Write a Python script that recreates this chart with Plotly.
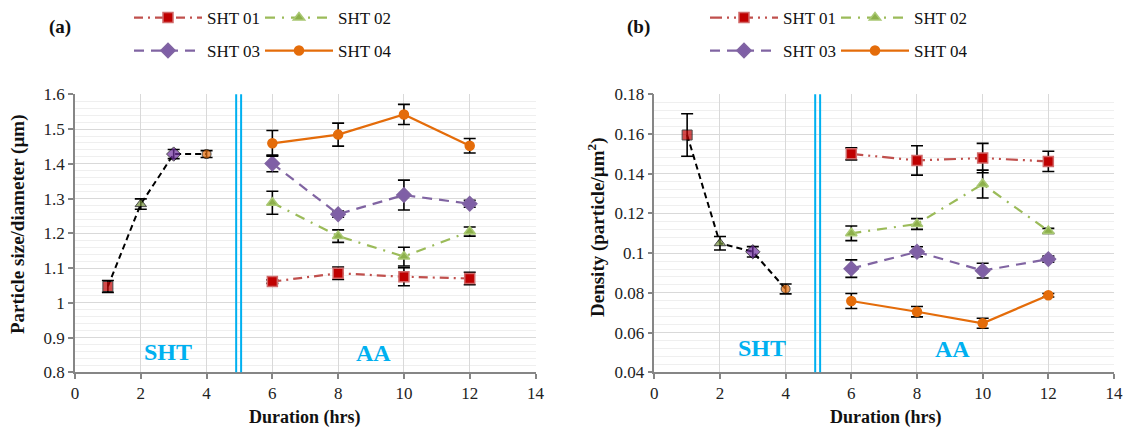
import plotly.graph_objects as go

# ---------------- data ----------------
sht_x = [1, 2, 3, 4]
aa_x = [6, 8, 10, 12]

# panel (a): particle size
a_sht_y = [1.047, 1.284, 1.428, 1.428]
a_sht_err = [0.017, 0.015, 0.013, 0.010]
a_s01 = [1.061, 1.085, 1.075, 1.070]
a_s01_err = [0.005, 0.018, 0.026, 0.018]
a_s02 = [1.288, 1.192, 1.133, 1.205]
a_s02_err = [0.033, 0.018, 0.027, 0.013]
a_s03 = [1.401, 1.255, 1.310, 1.285]
a_s03_err = [0.024, 0.009, 0.043, 0.010]
a_s04 = [1.459, 1.484, 1.542, 1.452]
a_s04_err = [0.037, 0.033, 0.029, 0.021]

# panel (b): density
b_sht_y = [0.1595, 0.1050, 0.1007, 0.0820]
b_sht_err = [0.0107, 0.0034, 0.0026, 0.0025]
b_s01 = [0.1500, 0.1467, 0.1479, 0.1462]
b_s01_err = [0.0030, 0.0074, 0.0074, 0.0051]
b_s02 = [0.1100, 0.1147, 0.1348, 0.1112]
b_s02_err = [0.0037, 0.0027, 0.0070, 0.0013]
b_s03 = [0.0922, 0.1007, 0.0912, 0.0970]
b_s03_err = [0.0044, 0.0025, 0.0037, 0.0015]
b_s04 = [0.0759, 0.0705, 0.0647, 0.0788]
b_s04_err = [0.0038, 0.0026, 0.0025, 0.0009]

names = ["SHT 01", "SHT 02", "SHT 03", "SHT 04"]

# ---------------- styles ----------------
FONT = "Liberation Serif, Times New Roman, serif"
OFF = 8  # page body margin
W, H = 1131 - 2 * OFF, 437 - 2 * OFF
line_cols = ["#C0504D", "#9BBB59", "#8064A2", "#E46C0A"]
mk_cols = ["#C00000", "#8DB04B", "#7F5FA6", "#E46C0A"]
mk_line = ["#D06A6A", "#A9C873", "#8064A2", "#E46C0A"]
symbols = ["square", "triangle-up", "diamond", "circle"]
mk_sizes = [10, 10, 11, 9]
dash_a = ["9px,5px,2px,5px", "10px,7px,2px,7px", "10px,7px", "solid"]
dash_b = ["12px,5px,2px,5px,2px,5px", "10px,7px,2px,7px", "10px,7px", "solid"]
sht_mk_cols = ["#C00000", "#76923C", "#7030A0", "#E46C0A"]
BLUE = "#00B0F0"

def px_x(p):
    return (p - OFF) / W

def px_y(p):
    return 1 - (p - OFF) / H

fig = go.Figure()

panels = [
    dict(xa="x", ya="y", sht=(a_sht_y, a_sht_err),
         series=[(a_s01, a_s01_err), (a_s02, a_s02_err), (a_s03, a_s03_err), (a_s04, a_s04_err)],
         dashes=dash_a, legends=["legend", "legend", "legend2", "legend2"]),
    dict(xa="x2", ya="y2", sht=(b_sht_y, b_sht_err),
         series=[(b_s01, b_s01_err), (b_s02, b_s02_err), (b_s03, b_s03_err), (b_s04, b_s04_err)],
         dashes=dash_b, legends=["legend3", "legend3", "legend4", "legend4"]),
]

for p in panels:
    yv, ye = p["sht"]
    fig.add_trace(go.Scatter(
        x=sht_x, y=yv, xaxis=p["xa"], yaxis=p["ya"], mode="lines+markers",
        line=dict(color="black", width=2, dash="6px,4px"),
        marker=dict(symbol=symbols, color=sht_mk_cols, size=mk_sizes),
        error_y=dict(type="data", array=ye, color="black", thickness=1.6, width=6),
        showlegend=False, hoverinfo="x+y"))
    for i, (vals, errs) in enumerate(p["series"]):
        fig.add_trace(go.Scatter(
            x=aa_x, y=vals, xaxis=p["xa"], yaxis=p["ya"], mode="lines+markers",
            name=names[i], legend=p["legends"][i],
            line=dict(color=line_cols[i], width=2.2, dash=p["dashes"][i]),
            marker=dict(symbol=symbols[i], color=mk_cols[i], size=mk_sizes[i],
                        line=dict(color=mk_line[i], width=1.5)),
            error_y=dict(type="data", array=errs, color="black", thickness=1.6, width=6)))

axis_common = dict(showline=True, linecolor="#868686", linewidth=1.5, ticks="outside",
                   ticklen=5, tickcolor="#868686", tickwidth=1.5, automargin=False,
                   showgrid=True, gridcolor="#D9D9D9", gridwidth=1.3, zeroline=False,
                   tickfont=dict(family=FONT, size=17, color="#222"))

ya_dom = [px_y(372.3), px_y(94.3)]
fig.update_layout(
    width=W, height=H,
    margin=dict(l=0, r=0, t=0, b=0, autoexpand=False),
    plot_bgcolor="white", paper_bgcolor="white",
    font=dict(family=FONT, size=17, color="#111"),
    xaxis=dict(domain=[px_x(75), px_x(535.5)], range=[0, 14], dtick=2, anchor="y", **axis_common),
    yaxis=dict(domain=ya_dom, range=[0.8, 1.6], dtick=0.1, anchor="x",
               minor=dict(dtick=0.02, showgrid=True, gridcolor="#EFEFEF", gridwidth=1), **axis_common),
    xaxis2=dict(domain=[px_x(654.3), px_x(1114)], range=[0, 14], dtick=2, anchor="y2", **axis_common),
    yaxis2=dict(domain=ya_dom, range=[0.04, 0.18], dtick=0.02, anchor="x2",
                minor=dict(dtick=0.004, showgrid=True, gridcolor="#EFEFEF", gridwidth=1), **axis_common),
)

leg_common = dict(orientation="h", xanchor="left", yanchor="middle", itemwidth=68,
                  font=dict(family=FONT, size=17, color="#111"), bgcolor="rgba(0,0,0,0)",
                  entrywidth=48, tracegroupgap=0)
fig.update_layout(
    legend=dict(x=px_x(129), y=px_y(18), **leg_common),
    legend2=dict(x=px_x(129), y=px_y(51), **leg_common),
    legend3=dict(x=px_x(705), y=px_y(18), **leg_common),
    legend4=dict(x=px_x(705), y=px_y(51), **leg_common),
)

# double blue separators
for xa, ya in [("x", "y"), ("x2", "y2")]:
    for xv in [4.9, 5.05]:
        fig.add_shape(type="line", xref=xa, yref=ya + " domain", x0=xv, x1=xv, y0=0, y1=1,
                      line=dict(color=BLUE, width=2))

anns = [
    dict(text="<b>SHT</b>", xref="x", yref="y", x=2.83, y=0.858, font=dict(color=BLUE, size=24)),
    dict(text="<b>AA</b>", xref="x", yref="y", x=9.07, y=0.855, font=dict(color=BLUE, size=24)),
    dict(text="<b>SHT</b>", xref="x2", yref="y2", x=3.27, y=0.0521, font=dict(color=BLUE, size=24)),
    dict(text="<b>AA</b>", xref="x2", yref="y2", x=9.08, y=0.0515, font=dict(color=BLUE, size=24)),
    dict(text="<b>(a)</b>", xref="paper", yref="paper", x=px_x(60), y=px_y(27), font=dict(size=19)),
    dict(text="<b>(b)</b>", xref="paper", yref="paper", x=px_x(638), y=px_y(27), font=dict(size=19)),
    dict(text="<b>Duration (hrs)</b>", xref="paper", yref="paper", x=px_x(305), y=px_y(417), font=dict(size=18)),
    dict(text="<b>Duration (hrs)</b>", xref="paper", yref="paper", x=px_x(886), y=px_y(417), font=dict(size=18)),
    dict(text="<b>Particle size/diameter (µm)</b>", xref="paper", yref="paper", x=px_x(18), y=px_y(224),
         textangle=-90, font=dict(size=19)),
    dict(text="<b>Density (particle/µm<sup>2</sup>)</b>", xref="paper", yref="paper", x=px_x(597), y=px_y(227),
         textangle=-90, font=dict(size=19)),
]
for a in anns:
    a.setdefault("showarrow", False)
    a.setdefault("xanchor", "center")
    a.setdefault("yanchor", "middle")
    a["font"].setdefault("family", FONT)
    a["font"].setdefault("color", "#111")
    fig.add_annotation(**a)

fig.write_html("out.html")
